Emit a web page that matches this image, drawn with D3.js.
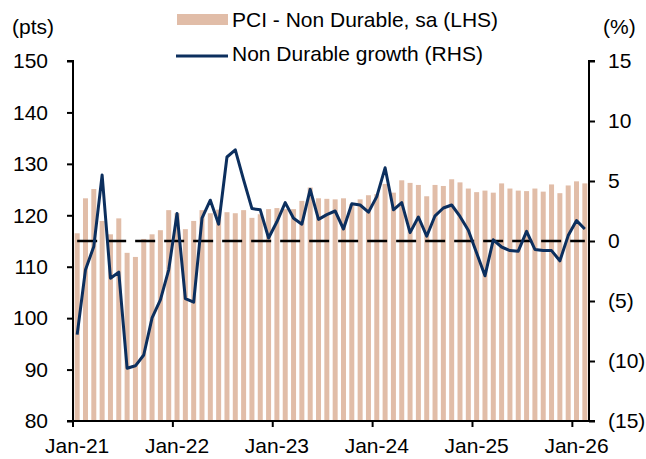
<!DOCTYPE html>
<html lang="en">
<head>
    <meta charset="UTF-8">
    <title>PCI - Non Durable</title>
    <script src="https://d3js.org/d3.v7.min.js"></script>
    <style>
        body {
            margin: 0;
            padding: 0;
            background: #ffffff;
            font-family: 'Liberation Sans', Arial, sans-serif;
        }
        text {
            font-family: 'Liberation Sans', Arial, sans-serif;
            fill: #000;
        }
    </style>
</head>
<body>
    <div id="chart"></div>

    <script>
        // monthly categories, Jan-21 .. Feb-26
        const months = d3.timeMonth.range(new Date(2021, 0, 1), new Date(2026, 2, 1));

        // PCI - Non Durable, sa (LHS, pts)
        const pciValues = [
            116.5, 123.3, 125.1, 118.9, 116.3, 119.4, 112.7, 111.9, 115.4, 116.3, 117.1, 121.0,
            120.4, 117.3, 118.9, 121.0, 120.4, 121.1, 120.6, 120.4, 121.0, 119.5, 120.2, 121.2,
            121.4, 121.2, 121.2, 122.8, 125.4, 123.3, 123.2, 123.1, 123.3, 122.2, 123.1, 123.9,
            124.1, 126.1, 124.4, 126.8, 126.3, 125.9, 123.7, 125.9, 125.7, 127.0, 126.4, 125.2,
            124.5, 124.8, 124.4, 126.2, 125.2, 124.8, 124.7, 125.2, 124.6, 126.0, 124.3, 125.8,
            126.6, 126.2
        ];

        // Non Durable growth (RHS, %)
        const growthValues = [
            -7.8, -2.4, -0.45, 5.5, -3.1, -2.6, -10.6, -10.4, -9.5, -6.4, -4.9, -2.4,
            2.3, -4.8, -5.1, 1.9, 3.4, 1.4, 7.0, 7.6, 5.1, 2.7, 2.6, 0.25,
            1.6, 3.2, 1.9, 1.4, 4.3, 1.8, 2.2, 2.5, 1.0, 3.1, 3.0, 2.4,
            3.7, 6.1, 2.6, 3.2, 0.7, 2.0, 0.4, 2.1, 2.75, 3.0, 2.05, 0.9,
            -1.0, -2.9, 0.1, -0.5, -0.8, -0.85, 0.8, -0.7, -0.8, -0.8, -1.65, 0.45,
            1.7, 1.0
        ];

        const leftTicks = [80, 90, 100, 110, 120, 130, 140, 150];
        const rightTicks = [-15, -10, -5, 0, 5, 10, 15];

        const width = 646;
        const height = 459;
        const margin = {top: 61, right: 57, bottom: 38, left: 73};

        const barColor = "#e1bda8";
        const lineColor = "#0c2f5e";
        const fontSize = 21;

        const svg = d3.select("#chart")
            .append("svg")
            .attr("width", width)
            .attr("height", height);

        const x = d3.scaleBand()
            .domain(months)
            .range([margin.left, width - margin.right])
            .paddingInner(0.4)
            .paddingOuter(0.2);

        const yLeft = d3.scaleLinear()
            .domain([80, 150])
            .range([height - margin.bottom, margin.top]);

        const yRight = d3.scaleLinear()
            .domain([-15, 15])
            .range([height - margin.bottom, margin.top]);

        const step = x.step();
        const center = d => x(d) + x.bandwidth() / 2;

        // bars
        svg.append("g")
            .selectAll("rect")
            .data(pciValues)
            .enter().append("rect")
            .attr("x", (d, i) => x(months[i]))
            .attr("y", d => yLeft(d))
            .attr("width", x.bandwidth())
            .attr("height", d => yLeft(80) - yLeft(d))
            .attr("fill", barColor);

        // zero reference (dashed)
        svg.append("line")
            .attr("x1", center(months[0]))
            .attr("x2", center(months[months.length - 1]))
            .attr("y1", yRight(0))
            .attr("y2", yRight(0))
            .attr("stroke", "#000")
            .attr("stroke-width", 2.5)
            .attr("stroke-dasharray", "20,9");

        // growth line
        const line = d3.line()
            .x((d, i) => center(months[i]))
            .y(d => yRight(d));

        svg.append("path")
            .datum(growthValues)
            .attr("d", line)
            .attr("fill", "none")
            .attr("stroke", lineColor)
            .attr("stroke-width", 3)
            .attr("stroke-linejoin", "round");

        // left axis
        const leftAxis = d3.axisLeft(yLeft)
            .tickValues(leftTicks)
            .tickSize(6)
            .tickPadding(19)
            .tickFormat(d3.format("d"));

        svg.append("g")
            .attr("transform", `translate(${margin.left},0)`)
            .call(leftAxis)
            .call(g => g.select(".domain").attr("stroke-width", 2).attr("d", `M-6,${yLeft(150)}H0V${yLeft(80)}H-6`))
            .call(g => g.selectAll(".tick line").attr("stroke-width", 2))
            .call(g => g.selectAll(".tick text").attr("font-size", fontSize).attr("font-family", null));

        // right axis
        const rightAxis = d3.axisRight(yRight)
            .tickValues(rightTicks)
            .tickSize(6)
            .tickPadding(13)
            .tickFormat(d => d < 0 ? `(${Math.abs(d)})` : d);

        svg.append("g")
            .attr("transform", `translate(${width - margin.right},0)`)
            .call(rightAxis)
            .call(g => g.select(".domain").attr("stroke-width", 2).attr("d", `M6,${yRight(15)}H0V${yRight(-15)}H6`))
            .call(g => g.selectAll(".tick line").attr("stroke-width", 2))
            .call(g => g.selectAll(".tick text").attr("font-size", fontSize).attr("font-family", null));

        // bottom axis: tick marks at year boundaries, labels centred on January
        const januaries = months.filter(d => d.getMonth() === 0);
        const xAxisG = svg.append("g");

        xAxisG.append("line")
            .attr("x1", margin.left)
            .attr("x2", width - margin.right)
            .attr("y1", yLeft(80))
            .attr("y2", yLeft(80))
            .attr("stroke", "#000")
            .attr("stroke-width", 2);

        xAxisG.selectAll(".yr")
            .data(januaries)
            .enter().append("line")
            .attr("x1", d => x(d) - step * x.paddingInner() / 2)
            .attr("x2", d => x(d) - step * x.paddingInner() / 2)
            .attr("y1", yLeft(80))
            .attr("y2", yLeft(80) + 6)
            .attr("stroke", "#000")
            .attr("stroke-width", 2);

        xAxisG.selectAll(".lbl")
            .data(januaries)
            .enter().append("text")
            .attr("x", d => center(d))
            .attr("y", yLeft(80) + 32)
            .attr("text-anchor", "middle")
            .attr("font-size", fontSize)
            .text(d3.timeFormat("%b-%y"));

        // unit labels
        svg.append("text")
            .attr("x", 12)
            .attr("y", 34)
            .attr("font-size", fontSize)
            .text("(pts)");

        svg.append("text")
            .attr("x", 603)
            .attr("y", 34)
            .attr("font-size", fontSize)
            .text("(%)");

        // legend
        const legend = svg.append("g");

        legend.append("rect")
            .attr("x", 177)
            .attr("y", 14)
            .attr("width", 51)
            .attr("height", 11)
            .attr("fill", barColor);

        legend.append("text")
            .attr("x", 232)
            .attr("y", 27)
            .attr("font-size", fontSize)
            .text("PCI - Non Durable, sa (LHS)");

        legend.append("line")
            .attr("x1", 176)
            .attr("x2", 228)
            .attr("y1", 56)
            .attr("y2", 56)
            .attr("stroke", lineColor)
            .attr("stroke-width", 3);

        legend.append("text")
            .attr("x", 232)
            .attr("y", 61)
            .attr("font-size", fontSize)
            .text("Non Durable growth (RHS)");
    </script>
</body>
</html>
